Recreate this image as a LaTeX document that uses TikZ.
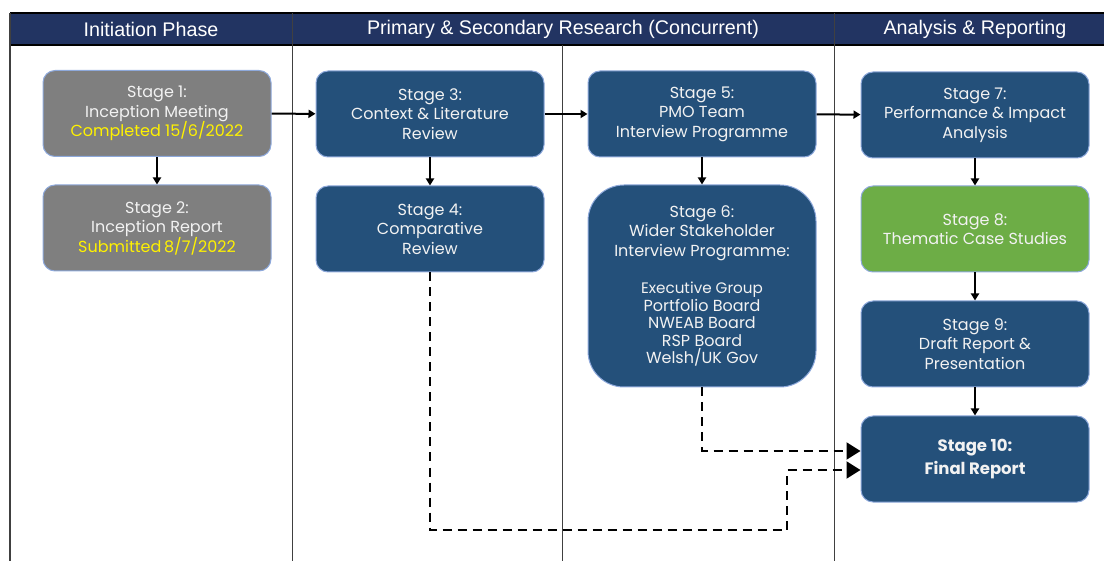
\documentclass[tikz,border=0pt]{standalone}
\usepackage{fontspec}
\usepackage{xcolor}
\usepackage{tikz}
\usetikzlibrary{arrows.meta}
\setmainfont{Poppins}
\newfontfamily\headfont{Liberation Sans}
\definecolor{headnavy}{HTML}{223462}
\definecolor{stageblue}{HTML}{24507A}
\definecolor{stagegrey}{HTML}{7F7F7F}
\definecolor{stagegreen}{HTML}{6DAD46}
\definecolor{edgeblue}{HTML}{8EA9DB}

\begin{document}
\begin{tikzpicture}[x=1pt,y=-1pt,
		stagebox/.style={draw=edgeblue, line width=1pt, fill=stageblue, rounded corners=12pt,
			minimum width=228pt, minimum height=86pt, inner sep=0pt, align=center,
			text=white!95!black, font=\fontsize{16}{19.5}\selectfont},
		donebox/.style={stagebox, fill=stagegrey},
		headtext/.style={text=white, font=\headfont\fontsize{19.7}{22}\selectfont},
		flow/.style={line width=2pt, -{Triangle[length=7pt,width=8pt]}},
		later/.style={line width=2pt, dash pattern=on 9pt off 6pt, -{Triangle[length=14pt,width=17pt]}},
		grid/.style={line width=1pt, draw=black!75}]
	\useasboundingbox (0,0) rectangle (1104,561);
	% heading band
	\fill[headnavy] (10,13) rectangle (1104,45);
	\draw[line width=1.5pt] (10,13) -- (1104,13);
	\draw[line width=1.5pt] (10,45) -- (1104,45);
	\draw[grid, line width=2pt] (10,13) -- (10,561);
	\draw[grid] (292,13) -- (292,561);
	\draw[grid] (562,45) -- (562,561);
	\draw[grid] (834,13) -- (834,561);
	\node[headtext] (ph1) at (151,29) {Initiation Phase};
	\node[headtext] (ph2) at (563,29) {Primary \& Secondary Research (Concurrent)};
	\node[headtext] (ph3) at (975,29) {Analysis \& Reporting};
	% stages
	\node[donebox] (s1) at (157,113.5) {Stage 1:\\Inception Meeting\\\textcolor{yellow}{Completed 15/6/2022}};
	\node[donebox] (s2) at (157,228) {Stage 2:\\Inception Report\\\textcolor{yellow}{Submitted\,8/7/2022}};
	\node[stagebox] (s3) at (430,114) {Stage 3:\\Context \& Literature\\Review};
	\node[stagebox] (s4) at (430,229) {Stage 4:\\Comparative\\Review};
	\node[stagebox] (s5) at (702,114) {Stage 5:\\PMO Team\\Interview Programme};
	\node[stagebox, minimum height=202pt, rounded corners=36pt] (s6) at (702,286)
		{Stage 6:\\Wider Stakeholder\\Interview Programme:\\[18pt]
		\fontsize{15.2}{19.5}\selectfont Executive Group\\[-2pt]Portfolio Board\\[-2pt]NWEAB Board\\[-2pt]RSP Board\\[-2pt]Welsh/UK Gov};
	\node[stagebox] (s7) at (975,115) {Stage 7:\\Performance \& Impact\\Analysis};
	\node[stagebox, fill=stagegreen] (s8) at (975,229) {Stage 8:\\Thematic Case Studies};
	\node[stagebox] (s9) at (975,344) {Stage 9:\\Draft Report \&\\Presentation};
	\node[stagebox, font=\fontsize{16.5}{23}\selectfont\bfseries] (s10) at (975,459) {Stage 10:\\Final Report};
	% connectors
	\draw[flow] (s1) -- (s3);
	\draw[flow] (s3) -- (s5);
	\draw[flow] (s5) -- (s7);
	\draw[flow] (s1) -- (s2);
	\draw[flow] (s3) -- (s4);
	\draw[flow] (s5) -- (s6);
	\draw[flow] (s7) -- (s8);
	\draw[flow] (s8) -- (s9);
	\draw[flow] (s9) -- (s10);
	\coordinate (bend) at (787,530);
	\draw[later] (s6.south) |- ([yshift=8pt]s10.west);
	\draw[later] (s4.south) |- (bend) |- ([yshift=-11pt]s10.west);
\end{tikzpicture}
\end{document}
